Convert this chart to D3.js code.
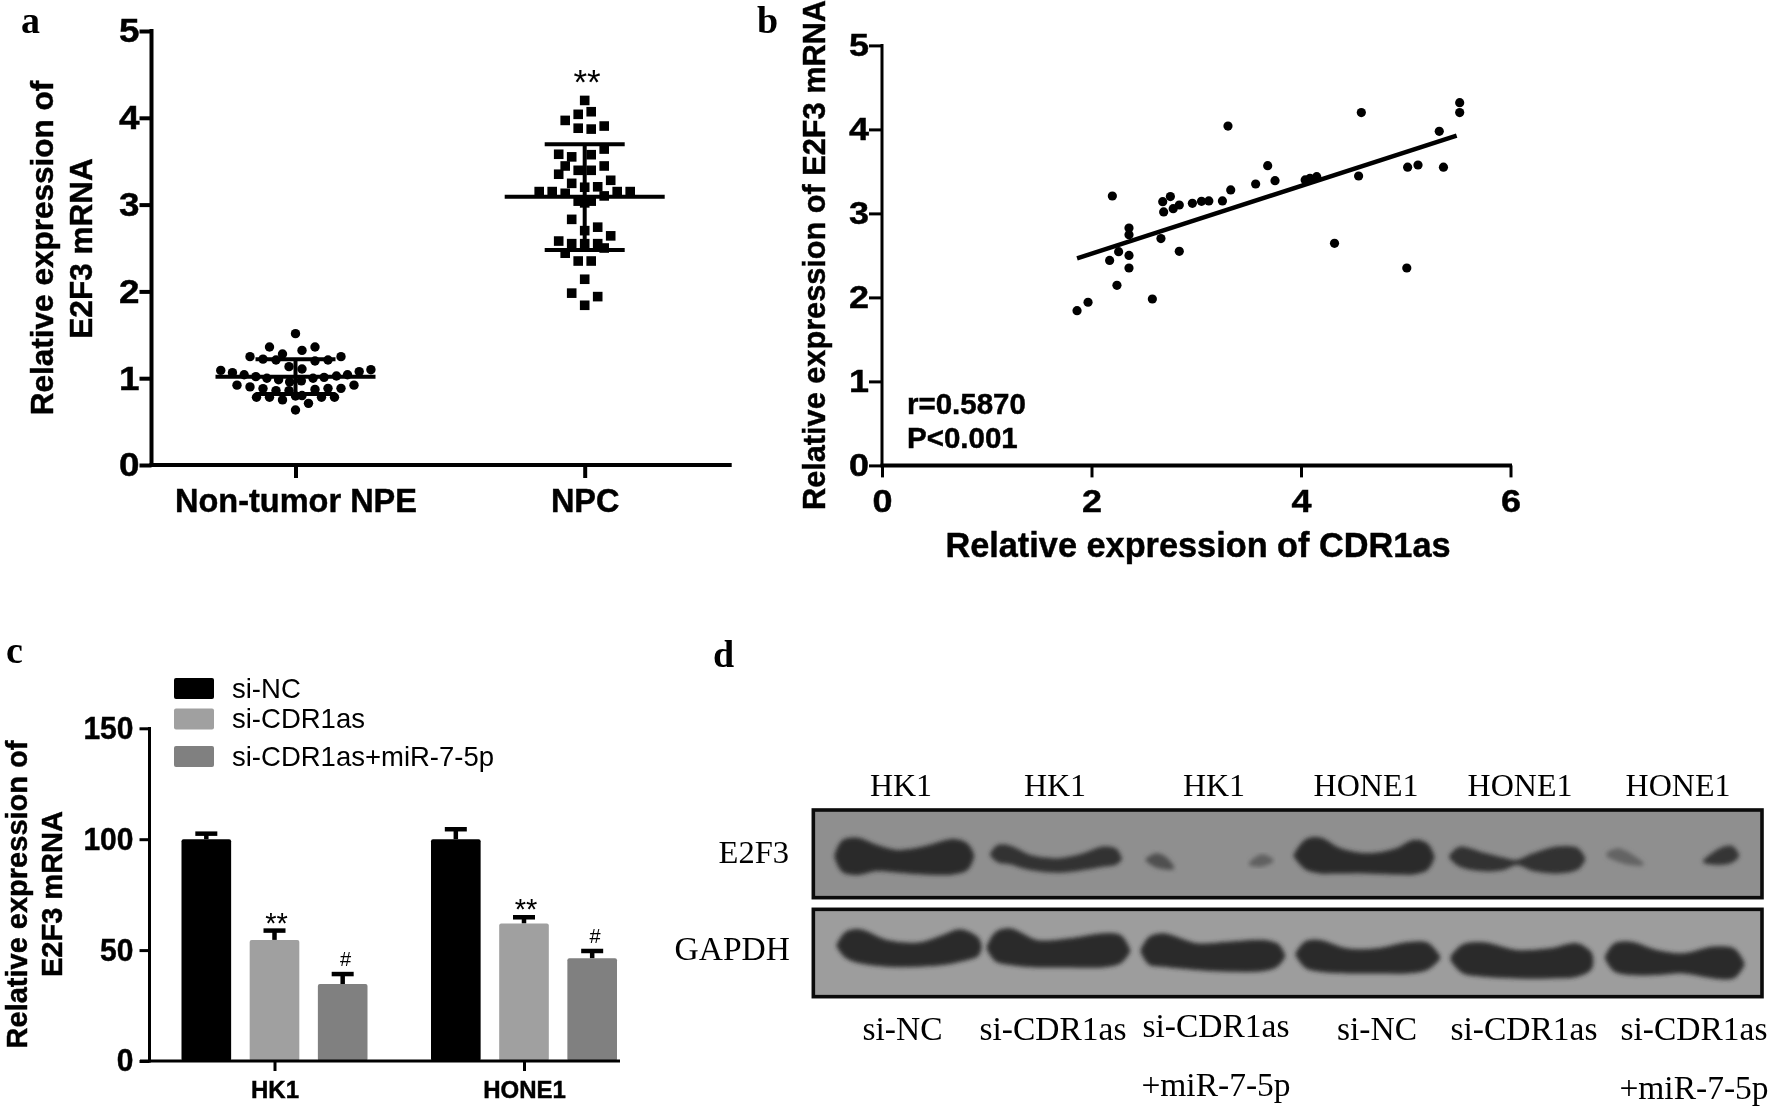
<!DOCTYPE html>
<html><head><meta charset="utf-8">
<script src="https://d3js.org/d3.v7.min.js"></script>
<style>
html,body{margin:0;padding:0;background:#fff}
svg{display:block;filter:blur(0.45px)}
text{fill:#000}
.sans{font-family:"Liberation Sans",Arial,sans-serif}
.serif{font-family:"Liberation Serif","Times New Roman",serif}
.bold{font-weight:700}
.sans.bold{stroke:#000;stroke-width:0.45px}
</style></head><body>
<svg id="fig" width="1772" height="1109" viewBox="0 0 1772 1109"></svg>
<script>
// ---- panel a ----
const groupsA = ["Non-tumor NPE", "NPC"];
const yTicksA = [0, 1, 2, 3, 4, 5];
const npeValues = [1.513,1.36,1.36,1.32,1.248,1.279,1.248,1.22,1.21,1.198,1.21,1.133,1.106,1.09,1.098,1.064,1.076,1.04,1.04,1.018,1.025,1.0,1.01,0.983,1.0,0.957,0.97,0.92,0.90,0.92,0.883,0.88,0.857,0.857,0.871,0.883,0.78,0.78,0.75,0.795,0.80,0.78,0.78,0.71,0.634];
const npeSwarm  = [0,-2,1.5,0.5,-3.5,-1,3.5,-2.5,-1.5,1.5,2.5,-0.5,0.5,-5.75,5.8,-4.85,4.9,-3.95,4,-3.05,3.15,-2.2,2.2,-1.3,1.35,-0.45,0.45,-4.5,-3.5,4.5,3.5,-2.5,-1.5,-0.5,1.5,2.5,-3,-2,-1,0,0.5,2,3,1,0];
const npcValues = [4.20,4.07,4.04,3.97,3.905,3.88,3.87,3.64,3.58,3.55,3.575,3.445,3.445,3.395,3.395,3.35,3.28,3.245,3.20,3.205,3.15,3.15,3.13,3.15,3.15,3.10,3.04,3.04,3.02,2.83,2.74,2.70,2.64,2.58,2.55,2.55,2.55,2.50,2.44,2.35,2.35,2.14,1.98,1.94,1.84];
const npcSwarm  = [0,0.5,-0.5,-1.5,1.5,-0.5,0.5,1.5,-2,-1,0.5,-1.5,1.5,-0.5,0.5,-2,2,-1,0,1,-3.5,-2.5,-1.5,2.5,3.5,1.5,-0.5,0.5,0,-1,1,0,2,-2,-1,0,1,1.5,-1.5,-0.5,0.5,0,-1,1,0];
const meanA = [1.018, 3.09];
const sdHighA = [1.217, 3.695];
const sdLowA = [0.818, 2.477];

// ---- panel b ----
const cdr1as = [1.862,1.967,2.243,2.581,2.173,2.259,2.358,2.358,2.838,2.663,2.358,2.358,2.199,2.689,2.68,2.753,2.78,2.838,2.963,3.05,3.12,3.25,3.329,3.567,3.682,3.752,3.303,4.04,4.086,4.15,4.55,4.576,4.32,5.01,5.018,5.117,5.36,5.32,5.515,5.515];
const e2f3mrna = [1.842,1.942,2.144,1.981,2.44,2.544,2.50,2.35,2.548,2.70,2.747,2.826,3.207,3.017,3.14,3.2,3.056,3.10,3.12,3.144,3.148,3.148,3.279,3.35,3.568,3.39,4.04,3.398,3.418,3.437,3.445,4.2,2.644,2.35,3.55,3.576,3.55,3.977,4.318,4.2];
const fitX = [1.862, 5.486];
const fitY = [2.465, 3.925];
const xTicksB = [0, 2, 4, 6];
const yTicksB = [0, 1, 2, 3, 4, 5];

// ---- panel c ----
const cellLines = ["HK1", "HONE1"];
const treatments = ["si-NC", "si-CDR1as", "si-CDR1as+miR-7-5p"];
const treatmentColors = ["#000000", "#a0a0a0", "#808080"];
const barsHK1 = [100, 54.6, 34.7];
const barsHONE1 = [100, 62, 46.3];
const errHK1 = [102.5, 58.8, 39.2];
const errHONE1 = [104.5, 64.8, 49.6];
const marksHK1 = ["", "**", "#"];
const marksHONE1 = ["", "**", "#"];
const yTicksC = [0, 50, 100, 150];

// ---- panel d (film density read from the blot) ----
const lanesTop = ["HK1", "HK1", "HK1", "HONE1", "HONE1", "HONE1"];
const lanesBottom = [["si-NC"], ["si-CDR1as"], ["si-CDR1as", "+miR-7-5p"], ["si-NC"], ["si-CDR1as"], ["si-CDR1as", "+miR-7-5p"]];
const bandsE2F3 = [
 {ink:"#2c2c2c", p:[[78,168,168],[100,125,212],[140,118,220],[200,140,208],[260,155,212],[340,145,218],[430,122,218],[470,135,205],[487,165,170]]},
 {ink:"#333", p:[[545,163,163],[565,140,182],[600,142,188],[660,170,205],[740,180,213],[820,165,205],[880,145,195],[915,150,190],[930,175,178]]},
 {ink:"#505050", p:[[1012,178,180],[1040,165,198],[1065,175,203],[1087,200,204]]},
 {ink:"#606060", p:[[1322,190,192],[1355,168,195],[1385,180,183]]},
 {ink:"#2c2c2c", p:[[1456,165,168],[1490,122,205],[1530,118,215],[1590,150,215],[1670,165,215],[1760,150,218],[1810,125,218],[1850,135,205],[1868,170,172]]},
 {ink:"#303030", p:[[1923,168,172],[1950,145,195],[2010,160,208],[2080,178,205],[2120,185,190],[2170,165,208],[2240,145,215],[2300,148,205],[2320,175,180]]},
 {ink:"#646464", p:[[2395,160,168],[2425,150,180],[2460,165,190],[2495,190,193]]},
 {ink:"#363636", p:[[2685,182,185],[2730,150,190],[2765,143,183],[2782,165,168]]}
];
const bandsGAPDH = [
 {ink:"#2c2c2c", p:[[85,435,438],[110,400,470],[150,393,485],[230,425,495],[330,432,495],[400,410,490],[450,393,480],[500,415,465],[510,440,442]]},
 {ink:"#2c2c2c", p:[[535,440,445],[560,400,480],[600,390,490],[680,425,497],[780,420,497],[880,405,497],[930,410,485],[955,450,455]]},
 {ink:"#2c2c2c", p:[[997,450,455],[1020,415,490],[1060,405,495],[1160,435,505],[1260,430,510],[1360,425,508],[1400,435,495],[1420,465,470]]},
 {ink:"#2c2c2c", p:[[1462,460,465],[1490,428,500],[1530,425,510],[1610,450,515],[1700,450,515],[1790,432,515],[1850,432,505],[1885,470,475]]},
 {ink:"#2c2c2c", p:[[1927,470,480],[1960,438,515],[2020,432,525],[2120,455,530],[2220,450,530],[2300,435,525],[2340,460,505],[2345,480,485]]},
 {ink:"#2c2c2c", p:[[2390,470,475],[2415,435,510],[2460,430,520],[2540,455,520],[2620,465,515],[2710,445,530],[2770,450,530],[2798,490,495]]}
];

const svg = d3.select("#fig");
const HEAVY = 4, MED = 3;

function text(g, s, x, y, size, cls, anchor, rot) {
  const t = g.append("text").attr("class", cls).attr("font-size", size)
    .attr("text-anchor", anchor || "middle").text(s);
  if (rot) t.attr("transform", `translate(${x},${y}) rotate(${rot})`);
  else t.attr("x", x).attr("y", y);
  return t;
}
function styleAxis(sel, w, size, cls, digitWidth) {
  sel.selectAll(".domain").remove();
  sel.selectAll(".tick line").attr("stroke", "#000").attr("stroke-width", w);
  const labels = sel.selectAll(".tick text").attr("class", cls).attr("font-size", size).attr("fill", "#000");
  if (digitWidth) labels.attr("textLength", d => String(d).length * digitWidth).attr("lengthAdjust", "spacingAndGlyphs");
}
function axisLine(g, x1, y1, x2, y2, w) {
  g.append("line").attr("x1", x1).attr("y1", y1).attr("x2", x2).attr("y2", y2)
    .attr("stroke", "#000").attr("stroke-width", w);
}

// panel letters
[["a",21,33],["b",757,33],["c",6,663],["d",713,667]].forEach(d =>
  text(svg, d[0], d[1], d[2], 38, "serif bold", "start"));

// ===== panel a =====
(function () {
  const g = svg.append("g");
  const y = d3.scaleLinear().domain([0, 5]).range([465, 31]);
  const x = d3.scalePoint().domain(groupsA).range([295.5, 584.7]);
  const swarm = d3.scaleLinear().domain([0, 1]).range([0, 13]);

  const ay = g.append("g").attr("transform", "translate(151.5,0)")
    .call(d3.axisLeft(y).tickValues(yTicksA).tickSize(12).tickPadding(0).tickFormat(d3.format("d")));
  styleAxis(ay, HEAVY, 34, "sans bold", 20.5);
  const ax = g.append("g").attr("transform", "translate(0,465)")
    .call(d3.axisBottom(x).tickSize(13).tickPadding(11));
  styleAxis(ax, HEAVY, 32.5, "sans bold");
  axisLine(g, 151.5, 29, 151.5, 467, HEAVY);
  axisLine(g, 149.5, 465, 731.7, 465, HEAVY);

  text(g, "Relative expression of", 53, 248, 31.5, "sans bold", "middle", -90);
  text(g, "E2F3 mRNA", 92, 248.5, 31.5, "sans bold", "middle", -90);

  const R = 4.7, S = 9.6;
  g.selectAll(".npe").data(npeValues).join("circle")
    .attr("cx", (d, i) => x(groupsA[0]) + swarm(npeSwarm[i])).attr("cy", d => y(d)).attr("r", R).attr("fill", "#000");
  g.selectAll(".npc").data(npcValues).join("rect")
    .attr("x", (d, i) => x(groupsA[1]) + swarm(npcSwarm[i]) - S / 2).attr("y", d => y(d) - S / 2)
    .attr("width", S).attr("height", S).attr("fill", "#000");

  groupsA.forEach((c, i) => {
    axisLine(g, x(c), y(sdHighA[i]), x(c), y(sdLowA[i]), HEAVY);
    axisLine(g, x(c) - 80, y(meanA[i]), x(c) + 80, y(meanA[i]), HEAVY);
    axisLine(g, x(c) - 40, y(sdHighA[i]), x(c) + 40, y(sdHighA[i]), HEAVY);
    axisLine(g, x(c) - 40, y(sdLowA[i]), x(c) + 40, y(sdLowA[i]), HEAVY);
  });
  text(g, "**", 587, 94, 35, "sans");
})();

// ===== panel b =====
(function () {
  const g = svg.append("g");
  const x = d3.scaleLinear().domain([0, 6]).range([882, 1510.5]);
  const y = d3.scaleLinear().domain([0, 5]).range([465.4, 45.4]);
  const ay = g.append("g").attr("transform", "translate(882,0)")
    .call(d3.axisLeft(y).tickValues(yTicksB).tickSize(13).tickPadding(0).tickFormat(d3.format("d")));
  styleAxis(ay, MED, 32, "sans bold", 20);
  const ax = g.append("g").attr("transform", "translate(0,465.4)")
    .call(d3.axisBottom(x).tickValues(xTicksB).tickSize(12).tickPadding(12).tickFormat(d3.format("d")));
  styleAxis(ax, MED, 32, "sans bold", 20);
  axisLine(g, 882, 44, 882, 467, MED);
  axisLine(g, 880.5, 465.4, 1512, 465.4, HEAVY);

  text(g, "Relative expression of E2F3 mRNA", 825, 255, 30.7, "sans bold", "middle", -90);
  text(g, "Relative expression of CDR1as", 1198, 557, 34.3, "sans bold");
  text(g, "r=0.5870", 907, 414, 29.5, "sans bold", "start");
  text(g, "P<0.001", 907, 448, 29.5, "sans bold", "start");

  g.selectAll(".pt").data(cdr1as).join("circle")
    .attr("cx", d => x(d)).attr("cy", (d, i) => y(e2f3mrna[i])).attr("r", 4.6).attr("fill", "#000");
  g.append("path").datum(fitX).attr("fill", "none").attr("stroke", "#000").attr("stroke-width", 4.5)
    .attr("d", d3.line().x(d => x(d)).y((d, i) => y(fitY[i])));
})();

// ===== panel c =====
(function () {
  const g = svg.append("g");
  const y = d3.scaleLinear().domain([0, 150]).range([1061, 728.3]);
  const x0 = d3.scalePoint().domain(cellLines).range([274.5, 524]);
  const x1 = d3.scaleBand().domain(treatments).range([-93, 93]).paddingInner(0.272).paddingOuter(0);
  const ay = g.append("g").attr("transform", "translate(149.5,0)")
    .call(d3.axisLeft(y).tickValues(yTicksC).tickSize(10).tickPadding(6).tickFormat(d3.format("d")));
  styleAxis(ay, MED, 31, "sans bold", 16.7);

  const rows = [[barsHK1, errHK1, marksHK1], [barsHONE1, errHONE1, marksHONE1]];
  cellLines.forEach((c, gi) => {
    const [vals, errs, marks] = rows[gi];
    treatments.forEach((t, i) => {
      const l = x0(c) + x1(t), w = x1.bandwidth(), m = l + w / 2;
      axisLine(g, m, y(errs[i]), m, y(vals[i]), 4.5);
      axisLine(g, m - 11, y(errs[i]), m + 11, y(errs[i]), 4.5);
      g.append("rect").attr("x", l).attr("y", y(vals[i])).attr("width", w).attr("height", y(0) - y(vals[i]))
        .attr("rx", 2).attr("fill", treatmentColors[i]);
      if (marks[i] === "**") text(g, "**", m + 2, y(errs[i]) + 2, 29, "sans");
      if (marks[i] === "#") text(g, "#", m + 3, y(errs[i]) - 8, 20, "sans");
    });
  });

  const ax = g.append("g").attr("transform", "translate(0,1061)")
    .call(d3.axisBottom(x0).tickSize(10).tickPadding(10));
  styleAxis(ax, MED, 24, "sans bold");
  axisLine(g, 149.5, 727, 149.5, 1062.5, MED);
  axisLine(g, 140, 1061, 620, 1061, MED);

  text(g, "Relative expression of", 26.6, 894.5, 29, "sans bold", "middle", -90);
  text(g, "E2F3 mRNA", 62, 894, 29, "sans bold", "middle", -90);

  const legendY = d3.scalePoint().domain(treatments).range([688.5, 756.5]);
  treatments.forEach((t, i) => {
    g.append("rect").attr("x", 174).attr("y", legendY(t) - 10.5 + (i === 1 ? -3.5 : 0)).attr("width", 40).attr("height", 21)
      .attr("rx", 2).attr("fill", treatmentColors[i]);
    text(g, t, 232, legendY(t) + 9 + (i === 1 ? -3.5 : 0), 27.5, "sans", "start");
  });
})();

// ===== panel d =====
(function () {
  const g = svg.append("g");
  const defs = svg.append("defs");
  const blur = defs.append("filter").attr("id", "film").attr("x", "-20%").attr("y", "-40%").attr("width", "140%").attr("height", "180%");
  blur.append("feGaussianBlur").attr("stdDeviation", 2.2);
  // film coordinates are three units to a pixel on the reference
  const fx = d3.scaleLinear().domain([0, 2886]).range([810, 1772]);
  const fy = d3.scaleLinear().domain([0, 600]).range([800, 1000]);

  const panels = [
    {top: 30, bottom: 293, fill: "#8f8f8f", bands: bandsE2F3},
    {top: 328, bottom: 590, fill: "#9d9d9d", bands: bandsGAPDH}
  ];
  const clipArea = d3.area().curve(d3.curveCatmullRom.alpha(0.5))
    .x(d => fx(d[0])).y0(d => fy(d[1])).y1(d => fy(d[2]));
  panels.forEach(p => {
    g.append("rect").attr("x", fx(10)).attr("y", fy(p.top)).attr("width", fx(2856) - fx(10)).attr("height", fy(p.bottom) - fy(p.top))
      .attr("fill", p.fill).attr("stroke", "#0b0b0b").attr("stroke-width", 3.6);
    g.selectAll(null).data(p.bands).join("path")
      .attr("d", d => clipArea(d.p)).attr("fill", d => d.ink).attr("stroke", d => d.ink)
      .attr("stroke-width", 3.5).attr("stroke-linejoin", "round").attr("filter", "url(#film)");
  });

  const topX = [901, 1055, 1214, 1366, 1520, 1678];
  lanesTop.forEach((s, i) => text(g, s, topX[i], 795.5, 32, "serif"));
  text(g, "E2F3", 789, 862.7, 32.5, "serif", "end");
  text(g, "GAPDH", 790, 960, 33.5, "serif", "end");
  const botX = [902.5, 1053, 1216, 1377, 1524, 1694];
  const botY1 = [1040, 1040, 1037, 1040, 1040, 1040];
  const botY2 = [0, 0, 1096, 0, 0, 1099];
  lanesBottom.forEach((lines, i) => lines.forEach((s, j) =>
    text(g, s, botX[i], j ? botY2[i] : botY1[i], 33.5, "serif")));
})();
</script>
</body></html>
